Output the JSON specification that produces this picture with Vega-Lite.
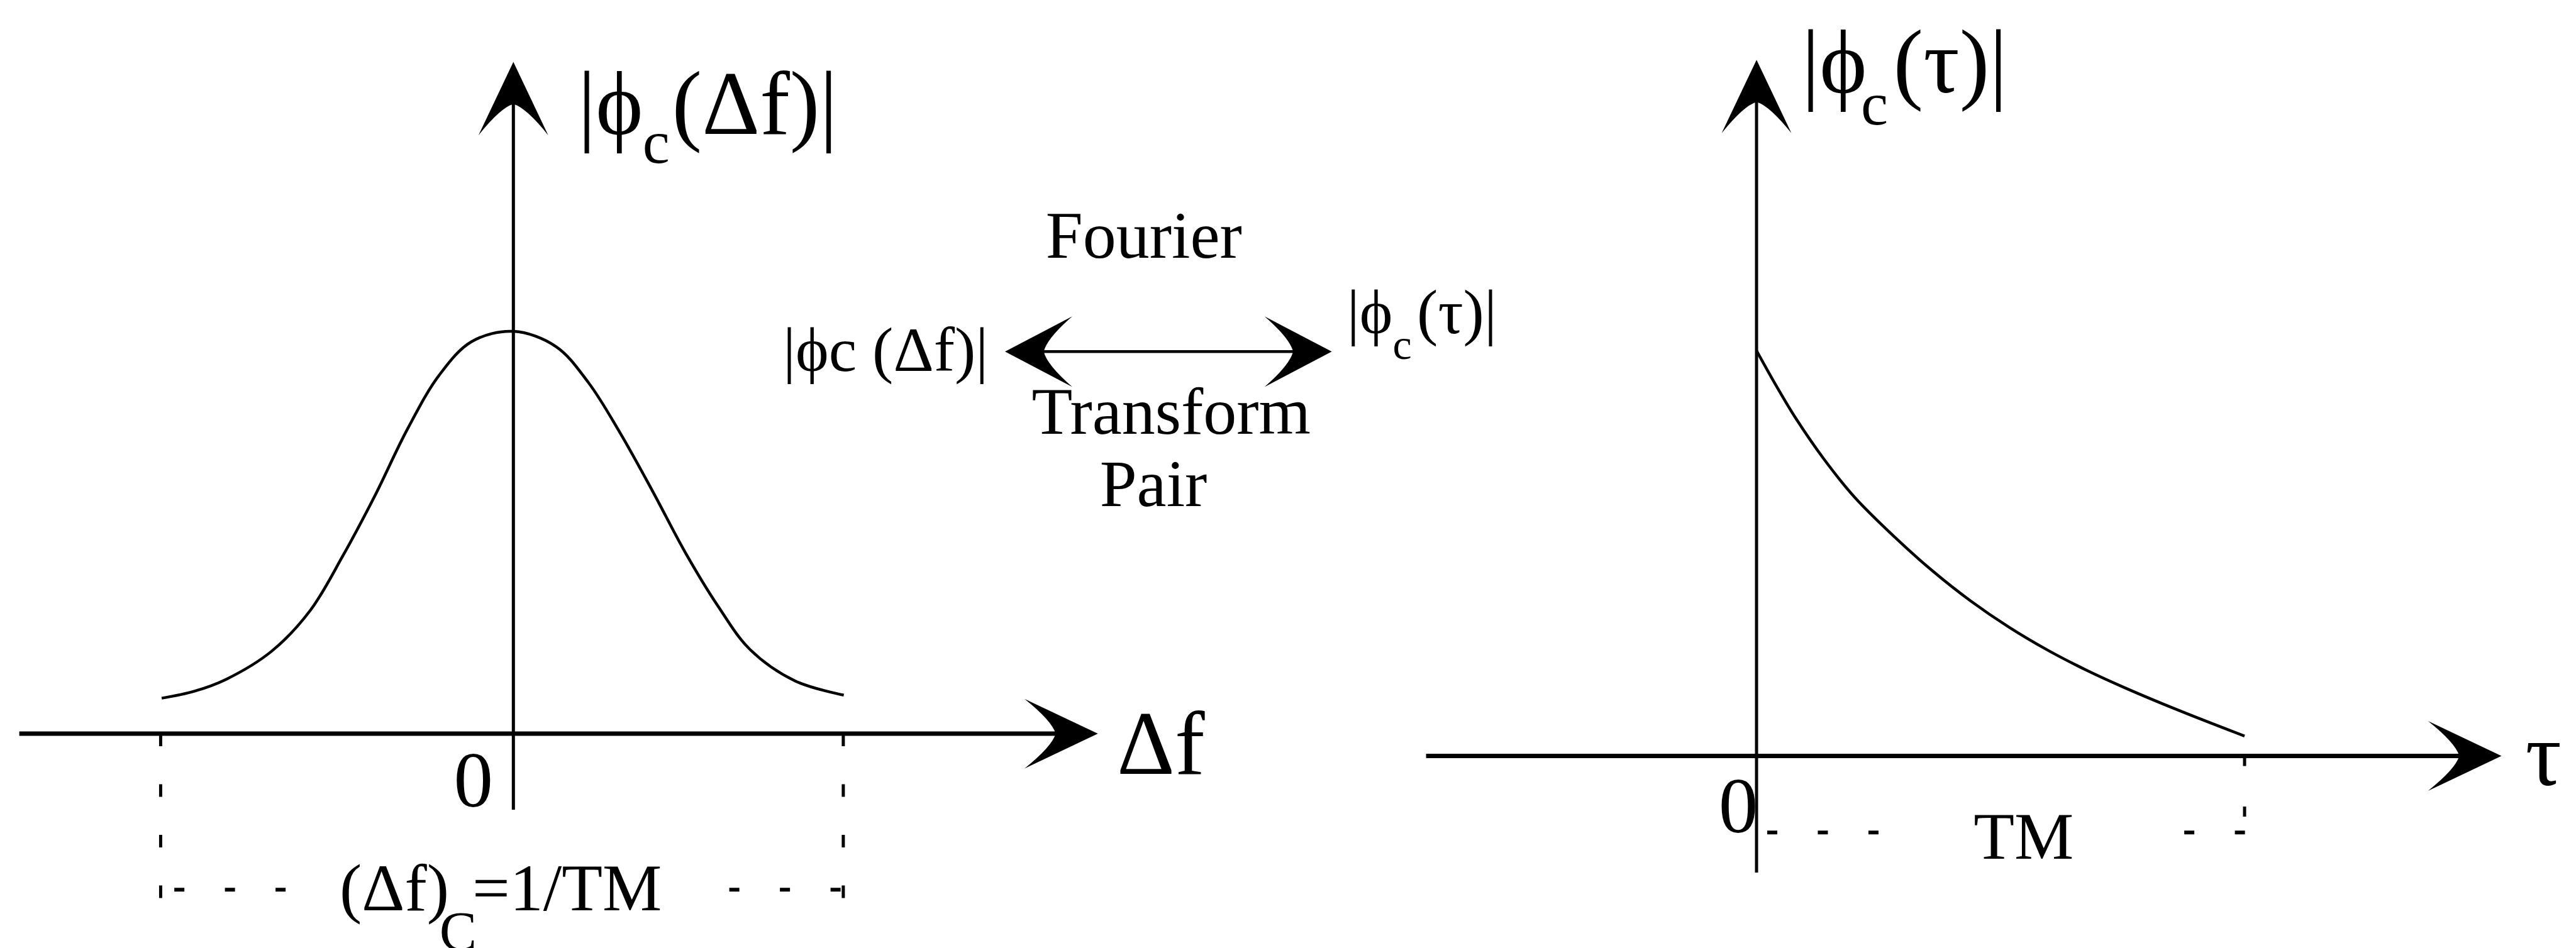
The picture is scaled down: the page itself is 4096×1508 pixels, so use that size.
{
  "$schema": "https://vega.github.io/schema/vega-lite/v6.json",
  "width": 4096,
  "height": 1508,
  "padding": 0,
  "autosize": {"type": "none"},
  "background": "white",
  "config": {"view": {"stroke": null}, "font": "Liberation Serif"},
  "datasets": {
    "gauss": [
      {"u": -0.5152, "a": 0.0882}, {"u": -0.4677, "a": 0.1053}, {"u": -0.4209, "a": 0.135},
      {"u": -0.3541, "a": 0.205}, {"u": -0.2977, "a": 0.306}, {"u": -0.2502, "a": 0.4408},
      {"u": -0.2027, "a": 0.5919}, {"u": -0.1552, "a": 0.7569}, {"u": -0.1084, "a": 0.8917},
      {"u": -0.0609, "a": 0.9748}, {"u": 0, "a": 1.0}, {"u": 0.0624, "a": 0.9622},
      {"u": 0.1099, "a": 0.8728}, {"u": 0.1566, "a": 0.7469}, {"u": 0.2042, "a": 0.602},
      {"u": 0.2517, "a": 0.4509}, {"u": 0.2992, "a": 0.3186}, {"u": 0.3467, "a": 0.2091},
      {"u": 0.4128, "a": 0.131}, {"u": 0.484, "a": 0.0957}
    ],
    "decay": [
      {"t": 0, "b": 1.0}, {"t": 0.0415, "b": 0.911}, {"t": 0.081, "b": 0.832},
      {"t": 0.1371, "b": 0.734}, {"t": 0.2004, "b": 0.639}, {"t": 0.2804, "b": 0.543},
      {"t": 0.3593, "b": 0.458}, {"t": 0.4393, "b": 0.382}, {"t": 0.5182, "b": 0.317},
      {"t": 0.5981, "b": 0.26}, {"t": 0.6771, "b": 0.211}, {"t": 0.757, "b": 0.167},
      {"t": 0.8681, "b": 0.111}, {"t": 1.0, "b": 0.049}
    ],
    "leftLines": [
      {"part": "haxis", "u": -0.7238, "a": 0, "u2": 0.7958, "a2": 0},
      {"part": "vaxis", "u": 0, "a": -0.1889, "u2": 0, "a2": 1.5718},
      {"part": "bound", "u": -0.5167, "a": 0, "u2": -0.5167, "a2": -0.437},
      {"part": "bound", "u": 0.4833, "a": 0, "u2": 0.4833, "a2": -0.437},
      {"part": "span", "u": -0.4967, "a": -0.3879, "u2": -0.3163, "a2": -0.3879},
      {"part": "span", "u": 0.3163, "a": -0.3879, "u2": 0.484, "a2": -0.3879},
      {"part": "link", "u": 0.7713, "a": 0.9496, "u2": 1.147, "a2": 0.9496}
    ],
    "leftArrows": [
      {"dir": "right", "u": 0.8025, "a": 0},
      {"dir": "up", "u": 0, "a": 1.5787},
      {"dir": "pairLeft", "u": 0.7695, "a": 0.9496},
      {"dir": "pairRight", "u": 1.1496, "a": 0.9496}
    ],
    "leftText": [
      {"role": "big", "label": "|ϕ", "u": 0.0943, "a": 1.4912},
      {"role": "big", "label": "(Δf)|", "u": 0.2324, "a": 1.4912},
      {"role": "big", "label": "Δf", "u": 0.8842, "a": -0.0995},
      {"role": "sub", "label": "c", "u": 0.1893, "a": 1.4194},
      {"role": "zero", "label": "0", "u": -0.0586, "a": -0.1814},
      {"role": "note", "label": "Fourier", "u": 0.9235, "a": 1.1826},
      {"role": "note", "label": "Transform", "u": 0.9636, "a": 0.7456},
      {"role": "note", "label": "Pair", "u": 0.9376, "a": 0.5655},
      {"role": "formula", "label": "(Δf)", "u": -0.2546, "a": -0.4383},
      {"role": "formula", "label": "=1/TM", "u": -0.0601, "a": -0.4383},
      {"role": "formulaSub", "label": "C", "u": -0.1084, "a": -0.5378},
      {"role": "pair", "label": "|ϕc (Δf)|", "u": 0.395, "a": 0.9018},
      {"role": "pair", "label": "|ϕ", "u": 1.2212, "a": 0.995},
      {"role": "pair", "label": "(τ)|", "u": 1.3237, "a": 0.995},
      {"role": "pairSub", "label": "c", "u": 1.2881, "a": 0.932}
    ],
    "rightLines": [
      {"part": "haxis", "t": -0.6771, "b": 0, "t2": 1.4455, "b2": 0},
      {"part": "vaxis", "t": 0, "b": -0.2875, "t2": 0, "b2": 1.6213},
      {"part": "bound", "t": 1, "b": 0, "t2": 1, "b2": -0.195},
      {"part": "span", "t": 0.0218, "b": -0.1888, "t2": 0.2586, "b2": -0.1888},
      {"part": "span", "t": 0.8764, "b": -0.1888, "t2": 1.0114, "b2": -0.1888}
    ],
    "rightArrows": [
      {"dir": "right", "t": 1.4512, "b": 0},
      {"dir": "up", "t": 0, "b": 1.6269}
    ],
    "rightText": [
      {"role": "big", "label": "|ϕ", "t": 0.0924, "b": 1.6363},
      {"role": "big", "label": "(τ)|", "t": 0.2804, "b": 1.6363},
      {"role": "big", "label": "τ", "t": 1.5753, "b": -0.0725},
      {"role": "sub", "label": "c", "t": 0.2139, "b": 1.5575},
      {"role": "zero", "label": "0", "t": -0.0374, "b": -0.1888},
      {"role": "note", "label": "TM", "t": 0.5472, "b": -0.2538}
    ]
  },
  "layer": [
    {
      "encoding": {
        "x": {"field": "u", "type": "quantitative", "scale": {"domain": [-0.75204, 3.02153], "nice": false, "zero": false}, "axis": null},
        "y": {"field": "a", "type": "quantitative", "scale": {"domain": [-0.53275, 1.82368], "nice": false, "zero": false}, "axis": null}
      },
      "layer": [
        {
          "data": {"name": "gauss"},
          "mark": {"type": "line", "color": "black", "strokeWidth": 4.5, "interpolate": "catmull-rom"},
          "encoding": {}
        },
        {
          "data": {"name": "leftLines"},
          "transform": [{"filter": "datum.part === 'haxis'"}],
          "mark": {"type": "rule", "color": "black", "strokeWidth": 7},
          "encoding": {"x2": {"field": "u2"}, "y2": {"field": "a2"}}
        },
        {
          "data": {"name": "leftLines"},
          "transform": [{"filter": "datum.part === 'vaxis'"}],
          "mark": {"type": "rule", "color": "black", "strokeWidth": 5},
          "encoding": {"x2": {"field": "u2"}, "y2": {"field": "a2"}}
        },
        {
          "data": {"name": "leftLines"},
          "transform": [{"filter": "datum.part === 'link'"}],
          "mark": {"type": "rule", "color": "black", "strokeWidth": 4.5},
          "encoding": {"x2": {"field": "u2"}, "y2": {"field": "a2"}}
        },
        {
          "data": {"name": "leftLines"},
          "transform": [{"filter": "datum.part === 'bound'"}],
          "mark": {"type": "rule", "color": "black", "strokeWidth": 5, "strokeDash": [20, 60.5]},
          "encoding": {"x2": {"field": "u2"}, "y2": {"field": "a2"}}
        },
        {
          "data": {"name": "leftLines"},
          "transform": [{"filter": "datum.part === 'span'"}],
          "mark": {"type": "rule", "color": "black", "strokeWidth": 6, "strokeDash": [16, 64.5]},
          "encoding": {"x2": {"field": "u2"}, "y2": {"field": "a2"}}
        },
        {
          "data": {"name": "leftArrows"},
          "transform": [{"filter": "datum.dir === 'right'"}],
          "mark": {"type": "point", "shape": "M1,0 L-1,-0.95 Q-0.25,-0.35 -0.15,0 Q-0.25,0.35 -1,0.95 Z", "filled": true, "opacity": 1, "color": "black", "strokeWidth": 0, "size": 13619, "angle": 0},
          "encoding": {}
        },
        {
          "data": {"name": "leftArrows"},
          "transform": [{"filter": "datum.dir === 'up'"}],
          "mark": {"type": "point", "shape": "M1,0 L-1,-0.95 Q-0.25,-0.35 -0.15,0 Q-0.25,0.35 -1,0.95 Z", "filled": true, "opacity": 1, "color": "black", "strokeWidth": 0, "size": 13619, "angle": -90},
          "encoding": {}
        },
        {
          "data": {"name": "leftArrows"},
          "transform": [{"filter": "datum.dir === 'pairLeft'"}],
          "mark": {"type": "point", "shape": "M1,0 L-1,-1.05 Q-0.25,-0.4 -0.15,0 Q-0.25,0.4 -1,1.05 Z", "filled": true, "opacity": 1, "color": "black", "strokeWidth": 0, "size": 11449, "angle": 180},
          "encoding": {}
        },
        {
          "data": {"name": "leftArrows"},
          "transform": [{"filter": "datum.dir === 'pairRight'"}],
          "mark": {"type": "point", "shape": "M1,0 L-1,-1.05 Q-0.25,-0.4 -0.15,0 Q-0.25,0.4 -1,1.05 Z", "filled": true, "opacity": 1, "color": "black", "strokeWidth": 0, "size": 11449, "angle": 0},
          "encoding": {}
        },
        {
          "data": {"name": "leftText"},
          "transform": [{"filter": "datum.role === 'big'"}],
          "mark": {"type": "text", "color": "black", "fontSize": 143, "align": "left", "baseline": "alphabetic"},
          "encoding": {"text": {"field": "label"}}
        },
        {
          "data": {"name": "leftText"},
          "transform": [{"filter": "datum.role === 'sub'"}],
          "mark": {"type": "text", "color": "black", "fontSize": 97, "align": "left", "baseline": "alphabetic"},
          "encoding": {"text": {"field": "label"}}
        },
        {
          "data": {"name": "leftText"},
          "transform": [{"filter": "datum.role === 'zero'"}],
          "mark": {"type": "text", "color": "black", "fontSize": 125, "align": "center", "baseline": "alphabetic"},
          "encoding": {"text": {"field": "label"}}
        },
        {
          "data": {"name": "leftText"},
          "transform": [{"filter": "datum.role === 'note'"}],
          "mark": {"type": "text", "color": "black", "fontSize": 106, "align": "center", "baseline": "alphabetic"},
          "encoding": {"text": {"field": "label"}}
        },
        {
          "data": {"name": "leftText"},
          "transform": [{"filter": "datum.role === 'formula'"}],
          "mark": {"type": "text", "color": "black", "fontSize": 106, "align": "left", "baseline": "alphabetic"},
          "encoding": {"text": {"field": "label"}}
        },
        {
          "data": {"name": "leftText"},
          "transform": [{"filter": "datum.role === 'formulaSub'"}],
          "mark": {"type": "text", "color": "black", "fontSize": 89, "align": "left", "baseline": "alphabetic"},
          "encoding": {"text": {"field": "label"}}
        },
        {
          "data": {"name": "leftText"},
          "transform": [{"filter": "datum.role === 'pair'"}],
          "mark": {"type": "text", "color": "black", "fontSize": 100, "align": "left", "baseline": "alphabetic"},
          "encoding": {"text": {"field": "label"}}
        },
        {
          "data": {"name": "leftText"},
          "transform": [{"filter": "datum.role === 'pairSub'"}],
          "mark": {"type": "text", "color": "black", "fontSize": 68, "align": "left", "baseline": "alphabetic"},
          "encoding": {"text": {"field": "label"}}
        }
      ]
    },
    {
      "encoding": {
        "x": {"field": "t", "type": "quantitative", "scale": {"domain": [-3.5992, 1.6791], "nice": false, "zero": false}, "axis": null},
        "y": {"field": "b", "type": "quantitative", "scale": {"domain": [-0.47375, 1.865], "nice": false, "zero": false}, "axis": null}
      },
      "layer": [
        {
          "data": {"name": "decay"},
          "mark": {"type": "line", "color": "black", "strokeWidth": 4.5, "interpolate": "catmull-rom"},
          "encoding": {}
        },
        {
          "data": {"name": "rightLines"},
          "transform": [{"filter": "datum.part === 'haxis'"}],
          "mark": {"type": "rule", "color": "black", "strokeWidth": 7},
          "encoding": {"x2": {"field": "t2"}, "y2": {"field": "b2"}}
        },
        {
          "data": {"name": "rightLines"},
          "transform": [{"filter": "datum.part === 'vaxis'"}],
          "mark": {"type": "rule", "color": "black", "strokeWidth": 5},
          "encoding": {"x2": {"field": "t2"}, "y2": {"field": "b2"}}
        },
        {
          "data": {"name": "rightLines"},
          "transform": [{"filter": "datum.part === 'bound'"}],
          "mark": {"type": "rule", "color": "black", "strokeWidth": 5, "strokeDash": [16, 64.5]},
          "encoding": {"x2": {"field": "t2"}, "y2": {"field": "b2"}}
        },
        {
          "data": {"name": "rightLines"},
          "transform": [{"filter": "datum.part === 'span'"}],
          "mark": {"type": "rule", "color": "black", "strokeWidth": 6, "strokeDash": [16, 64.5]},
          "encoding": {"x2": {"field": "t2"}, "y2": {"field": "b2"}}
        },
        {
          "data": {"name": "rightArrows"},
          "transform": [{"filter": "datum.dir === 'right'"}],
          "mark": {"type": "point", "shape": "M1,0 L-1,-0.95 Q-0.25,-0.35 -0.15,0 Q-0.25,0.35 -1,0.95 Z", "filled": true, "opacity": 1, "color": "black", "strokeWidth": 0, "size": 13619, "angle": 0},
          "encoding": {}
        },
        {
          "data": {"name": "rightArrows"},
          "transform": [{"filter": "datum.dir === 'up'"}],
          "mark": {"type": "point", "shape": "M1,0 L-1,-0.95 Q-0.25,-0.35 -0.15,0 Q-0.25,0.35 -1,0.95 Z", "filled": true, "opacity": 1, "color": "black", "strokeWidth": 0, "size": 13619, "angle": -90},
          "encoding": {}
        },
        {
          "data": {"name": "rightText"},
          "transform": [{"filter": "datum.role === 'big'"}],
          "mark": {"type": "text", "color": "black", "fontSize": 143, "align": "left", "baseline": "alphabetic"},
          "encoding": {"text": {"field": "label"}}
        },
        {
          "data": {"name": "rightText"},
          "transform": [{"filter": "datum.role === 'sub'"}],
          "mark": {"type": "text", "color": "black", "fontSize": 97, "align": "left", "baseline": "alphabetic"},
          "encoding": {"text": {"field": "label"}}
        },
        {
          "data": {"name": "rightText"},
          "transform": [{"filter": "datum.role === 'zero'"}],
          "mark": {"type": "text", "color": "black", "fontSize": 125, "align": "center", "baseline": "alphabetic"},
          "encoding": {"text": {"field": "label"}}
        },
        {
          "data": {"name": "rightText"},
          "transform": [{"filter": "datum.role === 'note'"}],
          "mark": {"type": "text", "color": "black", "fontSize": 106, "align": "center", "baseline": "alphabetic"},
          "encoding": {"text": {"field": "label"}}
        }
      ]
    }
  ],
  "resolve": {"scale": {"x": "independent", "y": "independent"}}
}
